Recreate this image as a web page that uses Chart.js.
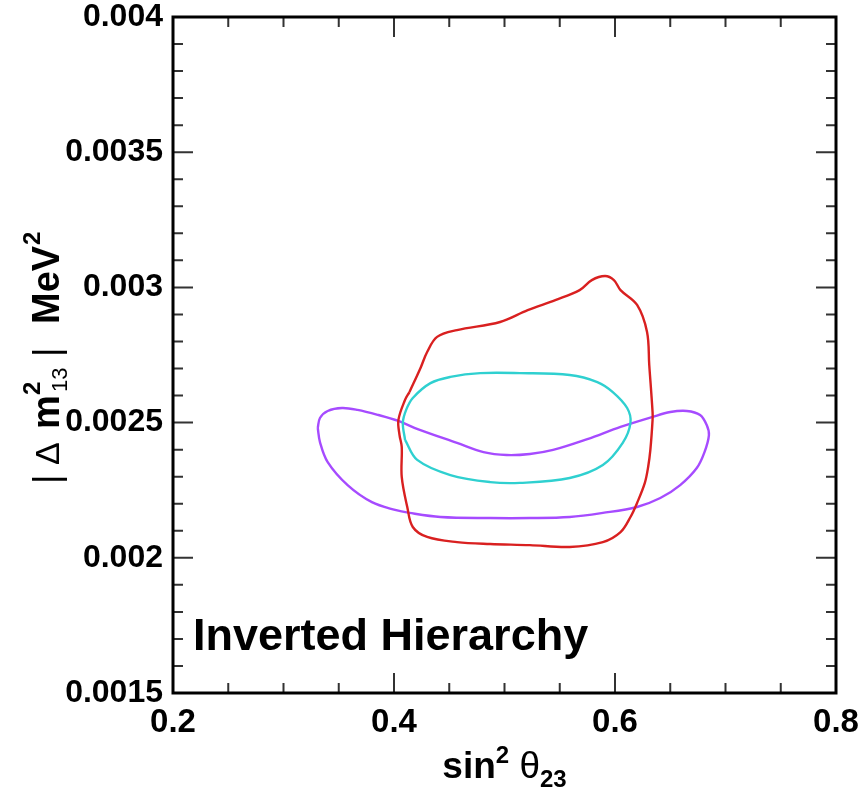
<!DOCTYPE html>
<html lang="en">
<head>
    <meta charset="UTF-8">
    <title>Inverted Hierarchy contours</title>
    <script src="https://cdn.jsdelivr.net/npm/chart.js"></script>
    <style>
        * { margin: 0; padding: 0; box-sizing: border-box; }
        body { background: #fff; overflow: hidden; }
        canvas { display: block; }
    </style>
</head>
<body>
    <canvas id="contourChart" width="865" height="798"></canvas>
    <script>
        // axis ticks
        const xMajorTicks = [0.2, 0.4, 0.6, 0.8];
        const yMajorTicks = [0.0015, 0.002, 0.0025, 0.003, 0.0035, 0.004];

        // red contour (sin^2 theta23, |dm^2_13|)
        const redX = [0.414, 0.410, 0.404, 0.405, 0.407, 0.407, 0.412, 0.417, 0.430, 0.457, 0.487, 0.523,
                      0.559, 0.589, 0.605, 0.614, 0.620, 0.627, 0.630, 0.632, 0.634, 0.634, 0.631, 0.629,
                      0.620, 0.605, 0.599, 0.591, 0.579, 0.568, 0.546, 0.521, 0.496, 0.457, 0.439, 0.430, 0.424];
        const redY = [0.002613, 0.002584, 0.002510, 0.002454, 0.002410, 0.002299, 0.002188, 0.002114, 0.002077,
                      0.002058, 0.002051, 0.002047, 0.002040, 0.002058, 0.002095, 0.002151, 0.002203, 0.002277,
                      0.002336, 0.002399, 0.002510, 0.002539, 0.002713, 0.002835, 0.002935, 0.002990, 0.003027,
                      0.003042, 0.003027, 0.002990, 0.002953, 0.002916, 0.002872, 0.002842, 0.002817, 0.002761, 0.002702];

        // cyan contour
        const cyanX = [0.410, 0.408, 0.411, 0.417, 0.433, 0.451, 0.478, 0.514, 0.559, 0.584, 0.598, 0.611,
                       0.614, 0.607, 0.589, 0.559, 0.514, 0.487, 0.451, 0.421];
        const cyanY = [0.002436, 0.002499, 0.002547, 0.002591, 0.002646, 0.002669, 0.002683, 0.002683, 0.002676,
                       0.002650, 0.002613, 0.002554, 0.002499, 0.002425, 0.002343, 0.002295, 0.002277, 0.002280,
                       0.002306, 0.002362];

        // violet contour
        const violetX = [0.331, 0.333, 0.340, 0.353, 0.367, 0.386, 0.404, 0.419, 0.457, 0.481, 0.502, 0.523,
                         0.544, 0.575, 0.605, 0.634, 0.650, 0.665, 0.677, 0.683, 0.685, 0.681, 0.674, 0.659,
                         0.641, 0.620, 0.589, 0.559, 0.523, 0.487, 0.442, 0.414, 0.401, 0.380, 0.358, 0.340, 0.333];
        const violetY = [0.002480, 0.002517, 0.002543, 0.002554, 0.002547, 0.002528, 0.002506, 0.002480, 0.002425,
                         0.002391, 0.002380, 0.002384, 0.002399, 0.002439, 0.002484, 0.002521, 0.002539, 0.002543,
                         0.002528, 0.002491, 0.002454, 0.002391, 0.002332, 0.002269, 0.002221, 0.002188, 0.002166,
                         0.002151, 0.002147, 0.002147, 0.002151, 0.002166, 0.002177, 0.002206, 0.002269, 0.002354,
                         0.002428];

        function loop(xs, ys) {
            const pts = xs.map((x, i) => ({ x: x, y: ys[i] }));
            pts.push({ x: xs[0], y: ys[0] });
            return pts;
        }

        const FONT = '"Liberation Sans", Arial, Helvetica, sans-serif';

        // draws the ROOT-like frame, inner ticks, titles and the label
        const framePlugin = {
            id: 'frame',
            afterDraw(chart) {
                const ctx = chart.ctx;
                const a = chart.chartArea;
                const xs = chart.scales.x, ys = chart.scales.y;
                ctx.save();

                // ticks on all four sides
                ctx.strokeStyle = '#333';
                ctx.lineWidth = 2;
                ctx.beginPath();
                for (let i = 0; i <= 12; i++) {
                    const v = 0.2 + i * 0.05;
                    const px = xs.getPixelForValue(v);
                    const len = (i % 4 === 0) ? 20 : 10;
                    ctx.moveTo(px, a.bottom); ctx.lineTo(px, a.bottom - len);
                    ctx.moveTo(px, a.top); ctx.lineTo(px, a.top + len);
                }
                for (let i = 0; i <= 25; i++) {
                    const v = 0.0015 + i * 0.0001;
                    const py = ys.getPixelForValue(v);
                    const len = (i % 5 === 0) ? 20 : 10;
                    ctx.moveTo(a.left, py); ctx.lineTo(a.left + len, py);
                    ctx.moveTo(a.right, py); ctx.lineTo(a.right - len, py);
                }
                ctx.stroke();

                // frame
                ctx.strokeStyle = '#000';
                ctx.lineWidth = 3;
                ctx.strokeRect(a.left, a.top, a.right - a.left, a.bottom - a.top);

                // label inside plot
                ctx.fillStyle = '#000';
                ctx.font = 'bold 45px ' + FONT;
                ctx.textAlign = 'left';
                ctx.textBaseline = 'alphabetic';
                ctx.fillText('Inverted Hierarchy', a.left + 20, 650);

                // x title: sin^2 theta_23
                const xParts = [
                    { t: 'sin', f: 'bold 37px ' + FONT, dy: 0 },
                    { t: '2', f: 'bold 24px ' + FONT, dy: -15 },
                    { t: ' \u03B8', f: '37px ' + FONT, dy: 0 },
                    { t: '23', f: 'bold 24px ' + FONT, dy: 9 }
                ];
                let x = (a.left + a.right) / 2 - partsWidth(ctx, xParts) / 2;
                xParts.forEach(p => {
                    ctx.font = p.f;
                    ctx.fillText(p.t, x, 778 + p.dy);
                    x += ctx.measureText(p.t).width;
                });

                // y title: | Delta m^2_13 |  MeV^2 (rotated, s = distance along the text)
                ctx.translate(59, 481);
                ctx.rotate(-Math.PI / 2);
                const yParts = [
                    { t: '|', f: '36px ' + FONT, s: -3, dy: 0 },
                    { t: '\u0394', f: '34px ' + FONT, s: 16, dy: 0 },
                    { t: 'm', f: 'bold 38px ' + FONT, s: 52, dy: 0 },
                    { t: '2', f: 'bold 24px ' + FONT, s: 86, dy: -19 },
                    { t: '13', f: '22px ' + FONT, s: 89, dy: 8 },
                    { t: '|', f: '36px ' + FONT, s: 124, dy: 0 },
                    { t: 'MeV', f: 'bold 38px ' + FONT, s: 157, dy: 0 },
                    { t: '2', f: 'bold 24px ' + FONT, s: 236, dy: -19 }
                ];
                yParts.forEach(p => {
                    ctx.font = p.f;
                    ctx.fillText(p.t, p.s, p.dy);
                });
                ctx.restore();
            }
        };

        function partsWidth(ctx, parts) {
            let w = 0;
            parts.forEach(p => { ctx.font = p.f; w += ctx.measureText(p.t).width; });
            return w;
        }

        const ctx = document.getElementById('contourChart').getContext('2d');
        const chart = new Chart(ctx, {
            type: 'scatter',
            data: {
                datasets: [
                    { label: 'red', data: loop(redX, redY), borderColor: '#d92020' },
                    { label: 'cyan', data: loop(cyanX, cyanY), borderColor: '#2fd0d0' },
                    { label: 'violet', data: loop(violetX, violetY), borderColor: '#a64bff' }
                ].map(d => Object.assign(d, {
                    showLine: true,
                    fill: false,
                    borderWidth: 2.4,
                    pointRadius: 0,
                    tension: 0.35
                }))
            },
            options: {
                responsive: false,
                animation: false,
                devicePixelRatio: 1,
                layout: { padding: { top: 17, right: 29, left: 0, bottom: 0 } },
                plugins: { legend: { display: false }, tooltip: { enabled: false } },
                scales: {
                    x: {
                        type: 'linear',
                        min: 0.2,
                        max: 0.8,
                        afterFit: s => { s.height = 105; s.paddingLeft = 0; s.paddingRight = 0; },
                        afterBuildTicks: s => { s.ticks = xMajorTicks.map(v => ({ value: v })); },
                        grid: { display: false },
                        border: { display: false },
                        ticks: {
                            color: '#000',
                            padding: 2,
                            maxRotation: 0,
                            font: { family: FONT, size: 33, weight: 'bold' },
                            callback: v => String(+v.toFixed(2))
                        }
                    },
                    y: {
                        type: 'linear',
                        min: 0.0015,
                        max: 0.004,
                        afterFit: s => { s.width = 173; s.paddingTop = 0; s.paddingBottom = 0; },
                        afterBuildTicks: s => { s.ticks = yMajorTicks.map(v => ({ value: v })); },
                        grid: { display: false },
                        border: { display: false },
                        ticks: {
                            color: '#000',
                            padding: 2,
                            font: { family: FONT, size: 32, weight: 'bold' },
                            callback: v => String(+v.toFixed(4))
                        }
                    }
                }
            },
            plugins: [framePlugin]
        });
    </script>
</body>
</html>
